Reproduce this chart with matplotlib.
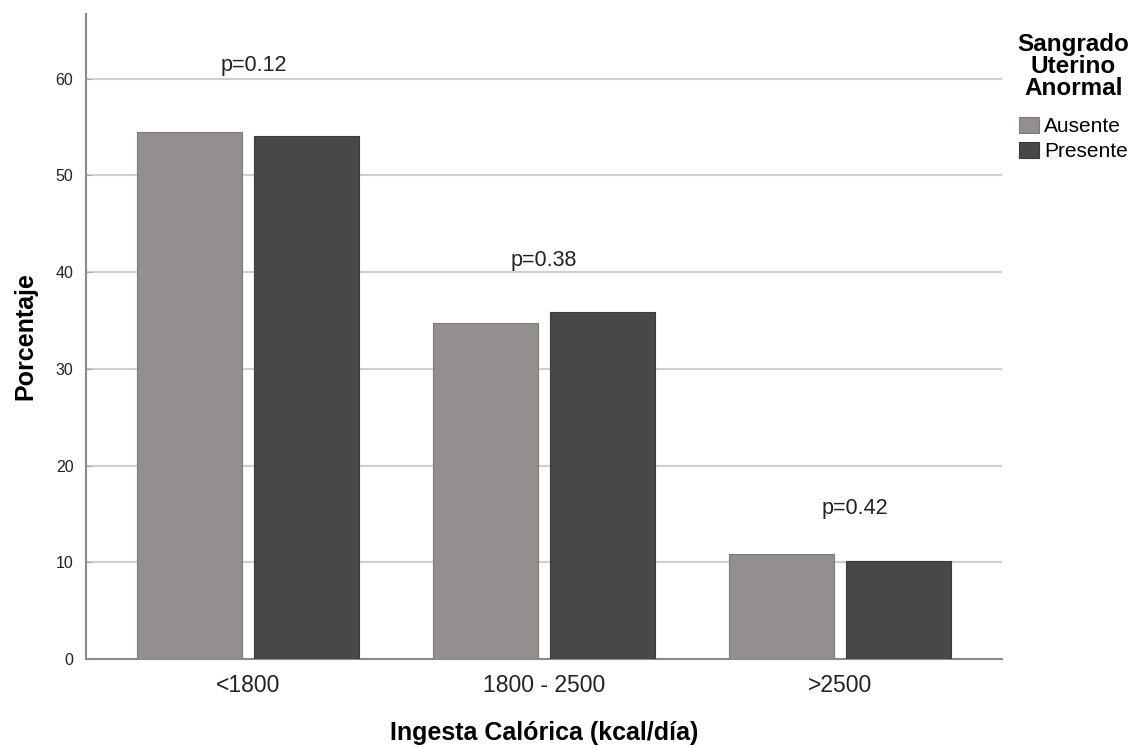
import matplotlib
matplotlib.use("Agg")
import matplotlib.pyplot as plt
import numpy as np

plt.rcParams['font.family'] = ['Liberation Sans', 'DejaVu Sans']

categories = ["<1800", "1800 - 2500", ">2500"]
series_names = ["Ausente", "Presente"]
ausente = [54.5, 34.7, 10.9]
presente = [54.1, 35.9, 10.1]
p_labels = ["p=0.12", "p=0.38", "p=0.42"]
p_label_x = [0.02, 1.0, 2.05]
p_label_y = [61.4, 41.2, 15.6]
yticks = [0, 10, 20, 30, 40, 50, 60]

colors = ["#938F8E", "#48484A"]
edges = ["#7E7A79", "#3A3A3C"]

fig = plt.figure(figsize=(11.35, 7.49), dpi=100)
ax = fig.add_axes([86/1135, 90/749, 916/1135, 645/749])

x = np.arange(len(categories))
w = 0.355
off = 0.198
ax.bar(x - off, ausente, width=w, color=colors[0], edgecolor=edges[0], linewidth=0.8,
       label=series_names[0], zorder=3)
ax.bar(x + off, presente, width=w, color=colors[1], edgecolor=edges[1], linewidth=0.8,
       label=series_names[1], zorder=3)

for xi, yi, t in zip(p_label_x, p_label_y, p_labels):
    ax.text(xi, yi, t, ha='center', va='center', fontsize=15.5, color='#222222', zorder=4)

ax.set_xlim(-0.547, 2.547)
ax.set_ylim(0, 66.7)
ax.set_yticks(yticks)
ax.set_xticks(x)
ax.set_xticklabels(categories)
ax.grid(axis='y', color='#CFCFCF', linewidth=1.5, zorder=0)
ax.set_axisbelow(True)

for s in ['top', 'right']:
    ax.spines[s].set_visible(False)
for s in ['left', 'bottom']:
    ax.spines[s].set_color('#8A8A8A')
    ax.spines[s].set_linewidth(1.5)

ax.tick_params(axis='x', length=0, pad=11, labelsize=16.5, labelcolor='#222222')
ax.tick_params(axis='y', direction='in', length=4, color='#AAAAAA', pad=9,
               labelsize=11.5, labelcolor='#222222')

ax.set_xlabel("Ingesta Calórica (kcal/día)", fontsize=18, fontweight='bold', labelpad=17)
ax.set_ylabel("Porcentaje", fontsize=18, fontweight='bold', labelpad=13)

leg = fig.legend(loc='upper right', bbox_to_anchor=(1148/1135, 1 - 14/749),
                 title="Sangrado\nUterino\nAnormal", frameon=False,
                 fontsize=15, handlelength=0.95, handleheight=0.8, handletextpad=0.25,
                 labelspacing=0.3, alignment='center',
                 title_fontproperties={'weight': 'bold', 'size': 17.5})
leg.get_title().set_multialignment('center')
leg.get_title().set_linespacing(0.95)
leg._legend_box.sep = 12

fig.savefig("out.png", dpi=100)
